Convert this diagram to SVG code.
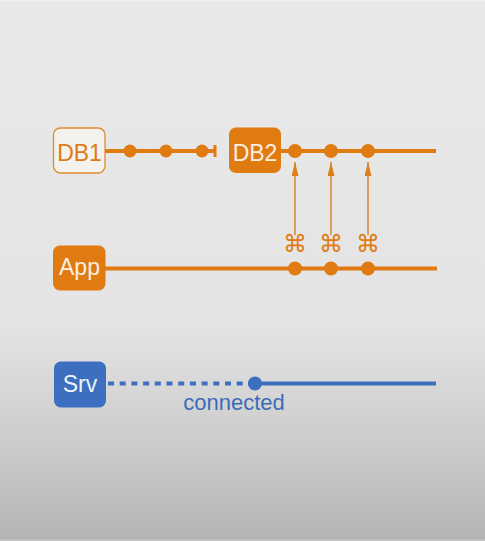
<svg xmlns="http://www.w3.org/2000/svg" width="485" height="541" viewBox="0 0 485 541">
<defs>
<linearGradient id="bg" x1="0" y1="0" x2="0" y2="1">
<stop offset="0" stop-color="#e9e9e9"/>
<stop offset="0.6" stop-color="#e4e4e4"/>
<stop offset="0.8" stop-color="#cecece"/>
<stop offset="1" stop-color="#b3b3b3"/>
</linearGradient>
<marker id="ah" markerUnits="userSpaceOnUse" markerWidth="14" markerHeight="7" refX="14" refY="3.5" orient="auto" viewBox="0 0 14 7">
<path d="M0,0 L14,3.5 L0,7 Z" fill="#dd7f1c"/>
</marker>
<style>
.lbl{font-family:"Liberation Sans",Arial,sans-serif;font-size:23px;text-anchor:middle}
.o{stroke:#e07b11;stroke-width:4;fill:none}
.b{stroke:#3c6fc0;stroke-width:4;fill:none}
.od{fill:#e07b11}
.bd{fill:#3c6fc0}
.arr{stroke:#d9872a;stroke-width:1.5;fill:none}
.cmd{font-family:"DejaVu Sans",sans-serif;font-size:24px;fill:#e07b11;text-anchor:middle}
</style>
</defs>
<rect x="0" y="0" width="485" height="541" fill="url(#bg)"/>
<rect x="0" y="0" width="485" height="1" fill="#f0f0f0"/>
<rect x="0" y="539" width="485" height="2" fill="#c2c2c2"/>

<g id="connectors">
<line class="o" x1="105" y1="151" x2="215" y2="151"/>
<rect x="213.5" y="145" width="3" height="12" class="od"/>
<circle class="od" cx="130" cy="151" r="6.5"/>
<circle class="od" cx="166" cy="151" r="6.5"/>
<circle class="od" cx="202" cy="151" r="6.5"/>
<line class="o" x1="281" y1="151" x2="436" y2="151"/>
<line class="o" x1="105" y1="268.5" x2="437" y2="268.5"/>
<line class="arr" x1="295" y1="235" x2="295" y2="162" marker-end="url(#ah)"/>
<line class="arr" x1="331" y1="235" x2="331" y2="162" marker-end="url(#ah)"/>
<line class="arr" x1="368" y1="235" x2="368" y2="162" marker-end="url(#ah)"/>
<circle class="od" cx="295" cy="151" r="7"/>
<circle class="od" cx="331" cy="151" r="7"/>
<circle class="od" cx="368" cy="151" r="7"/>
<circle class="od" cx="295" cy="268.5" r="7"/>
<circle class="od" cx="331" cy="268.5" r="7"/>
<circle class="od" cx="368" cy="268.5" r="7"/>
<text class="cmd" x="295" y="251.5">⌘</text>
<text class="cmd" x="331" y="251.5">⌘</text>
<text class="cmd" x="368" y="251.5">⌘</text>
<line class="b" x1="108" y1="383.5" x2="249" y2="383.5" stroke-dasharray="6 5.7"/>
<line class="b" x1="255" y1="383.5" x2="436" y2="383.5"/>
<circle class="bd" cx="255" cy="383.5" r="7"/>
<text class="lbl" x="234" y="410" fill="#3d6cb8" style="font-size:22px">connected</text>
</g>

<g id="db1">
<rect x="53.5" y="128" width="51.5" height="45" rx="7" fill="#f4f2ef" stroke="#e08a2e" stroke-width="1.3"/>
<text class="lbl" x="79.5" y="161" fill="#e07b11">DB1</text>
</g>
<g id="db2">
<rect x="229" y="127.5" width="52" height="45.5" rx="7" fill="#e07b11"/>
<text class="lbl" x="255" y="161" fill="#fbefe2">DB2</text>
</g>
<g id="app">
<rect x="53" y="245.5" width="52.5" height="45" rx="7" fill="#e07b11"/>
<text class="lbl" x="79.5" y="274.5" fill="#fbefe2">App</text>
</g>
<g id="srv">
<rect x="54" y="361.5" width="52" height="46" rx="7" fill="#3c6fc0"/>
<text class="lbl" x="80" y="392" fill="#eef2fa">Srv</text>
</g>
</svg>
